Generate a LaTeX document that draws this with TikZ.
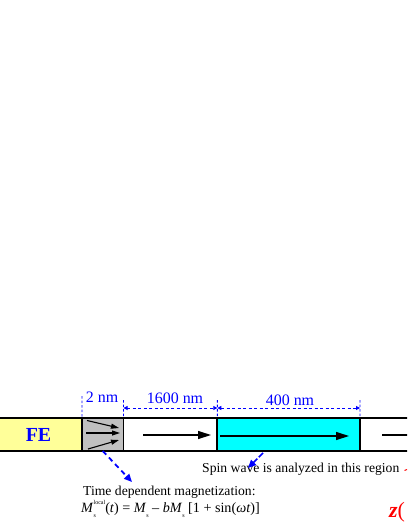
\documentclass[tikz,border=0pt]{standalone}
\usepackage{fontspec}
\setmainfont{Liberation Serif}
\usetikzlibrary{arrows.meta}
\definecolor{feyellow}{RGB}{255,255,153}
\definecolor{regiongray}{RGB}{192,192,192}
\definecolor{swcyan}{RGB}{0,255,255}
\definecolor{dimblue}{RGB}{0,0,255}
\definecolor{markred}{RGB}{255,0,0}
\newcommand\smallidx[1]{{\fontsize{6}{6}\selectfont #1}}
\newcommand\subsupidx[2]{\makebox[0pt][l]{\raisebox{-0.8ex}{\smallidx{#1}}}\raisebox{1.15ex}{\smallidx{#2}}}
\newcommand\subidx[1]{\raisebox{-0.8ex}{\smallidx{#1}}}
\begin{document}
\begin{tikzpicture}[x=1bp,y=-1bp,
  region/.style={draw=black, line width=1.8bp, minimum height=33bp, inner sep=0pt, outer sep=0pt},
  magarrow/.style={draw=black, line width=1.3bp, -{Triangle[length=13bp,width=8bp]}},
  smallmag/.style={draw=black, line width=1.1bp, -{Triangle[length=8bp,width=5bp]}},
  dimtick/.style={draw=dimblue, line width=0.9bp, dash pattern=on 2.5bp off 2bp},
  dimline/.style={draw=dimblue, line width=0.9bp, dash pattern=on 3bp off 2.5bp, {Triangle[length=4bp,width=4bp]}-{Triangle[length=4bp,width=4bp]}},
  dimlabel/.style={text=dimblue, font=\fontsize{16}{18}\selectfont, inner sep=0pt, anchor=base},
  bodytext/.style={font=\fontsize{13.7}{16}\selectfont, inner sep=0pt, anchor=base west},
  pointer/.style={draw=dimblue, line width=1.8bp, dash pattern=on 5bp off 4bp, -{Triangle[length=8bp,width=7bp]}},
]
\useasboundingbox (0,0) rectangle (407,527);
\clip (0,0) rectangle (407,527);

% bar regions
\node[region, fill=feyellow, minimum width=87bp] (fe) at (38.5,434.5) {};
\node[region, fill=regiongray, minimum width=41.5bp] (gray) at (102.75,434.5) {};
\node[region, fill=white, minimum width=93.8bp] (white1) at (170.4,434.5) {};
\node[region, fill=swcyan, minimum width=142.7bp] (cyan) at (288.65,434.5) {};
\node[region, fill=white, minimum width=60bp] (white2) at (390,434.5) {};

\node[text=dimblue, font=\fontsize{20}{22}\selectfont\bfseries, inner sep=0pt] (felabel) at (fe.center) {FE};

% magnetization arrows
\draw[smallmag] (87,420.5) -- (119,428);
\draw[smallmag] (86,433) -- (120,433);
\draw[smallmag] (88,449) -- (119,440);
\draw[magarrow] (143,435) -- (211,435);
\draw[magarrow] (220,436) -- (349,436);
\draw[draw=black, line width=1.3bp] (382,435) -- (420,435);

% dimension ticks and lines
\coordinate (t1) at (82,396);
\coordinate (t2) at (123.5,400);
\coordinate (t3) at (217.3,400);
\coordinate (t4) at (360,400);
\draw[dimtick] (t1) -- (gray.north west);
\draw[dimtick] (t2) -- (gray.north east);
\draw[dimtick] (t3) -- (cyan.north west);
\draw[dimtick] (t4) -- (cyan.north east);
\coordinate (d1a) at (123.5,408);
\coordinate (d1b) at (217.3,408);
\coordinate (d2b) at (360,408);
\draw[dimline] (d1a) -- (d1b);
\draw[dimline] (d1b) -- (d2b);

\node[dimlabel] (lab2) at (102,402) {2 nm};
\node[dimlabel] (lab1600) at (175,403) {1600 nm};
\node[dimlabel] (lab400) at (290,405) {400 nm};

% texts
\node[bodytext] (spintext) at (202,472) {Spin wave is analyzed in this region};
\node[bodytext] (timetext) at (83,495) {Time dependent magnetization:};
\node[bodytext, font=\fontsize{14.2}{16}\selectfont] (formula) at (81,512) {\textit{M}\subsupidx{s}{local}(\textit{t}) = \textit{M}\subidx{s}\ – \textit{bM}\subidx{s}\ [1 + sin(\textit{ωt})]};
\node[text=markred, font=\fontsize{22}{24}\selectfont, inner sep=0pt, anchor=base west] (zlabel) at (389,517) {\textbf{\textit{z}}(};
\draw[draw=markred, line width=1bp] (404.5,470.5) -- (407,469.5);

% pointers
\coordinate (p1) at (132,482);
\draw[pointer] (gray.south) -- (p1);
\coordinate (p2s) at (263,453);
\coordinate (p2e) at (248,468);
\draw[pointer, line width=1.5bp, dash pattern=on 6bp off 2bp] (p2s) -- (p2e);
\end{tikzpicture}
\end{document}
